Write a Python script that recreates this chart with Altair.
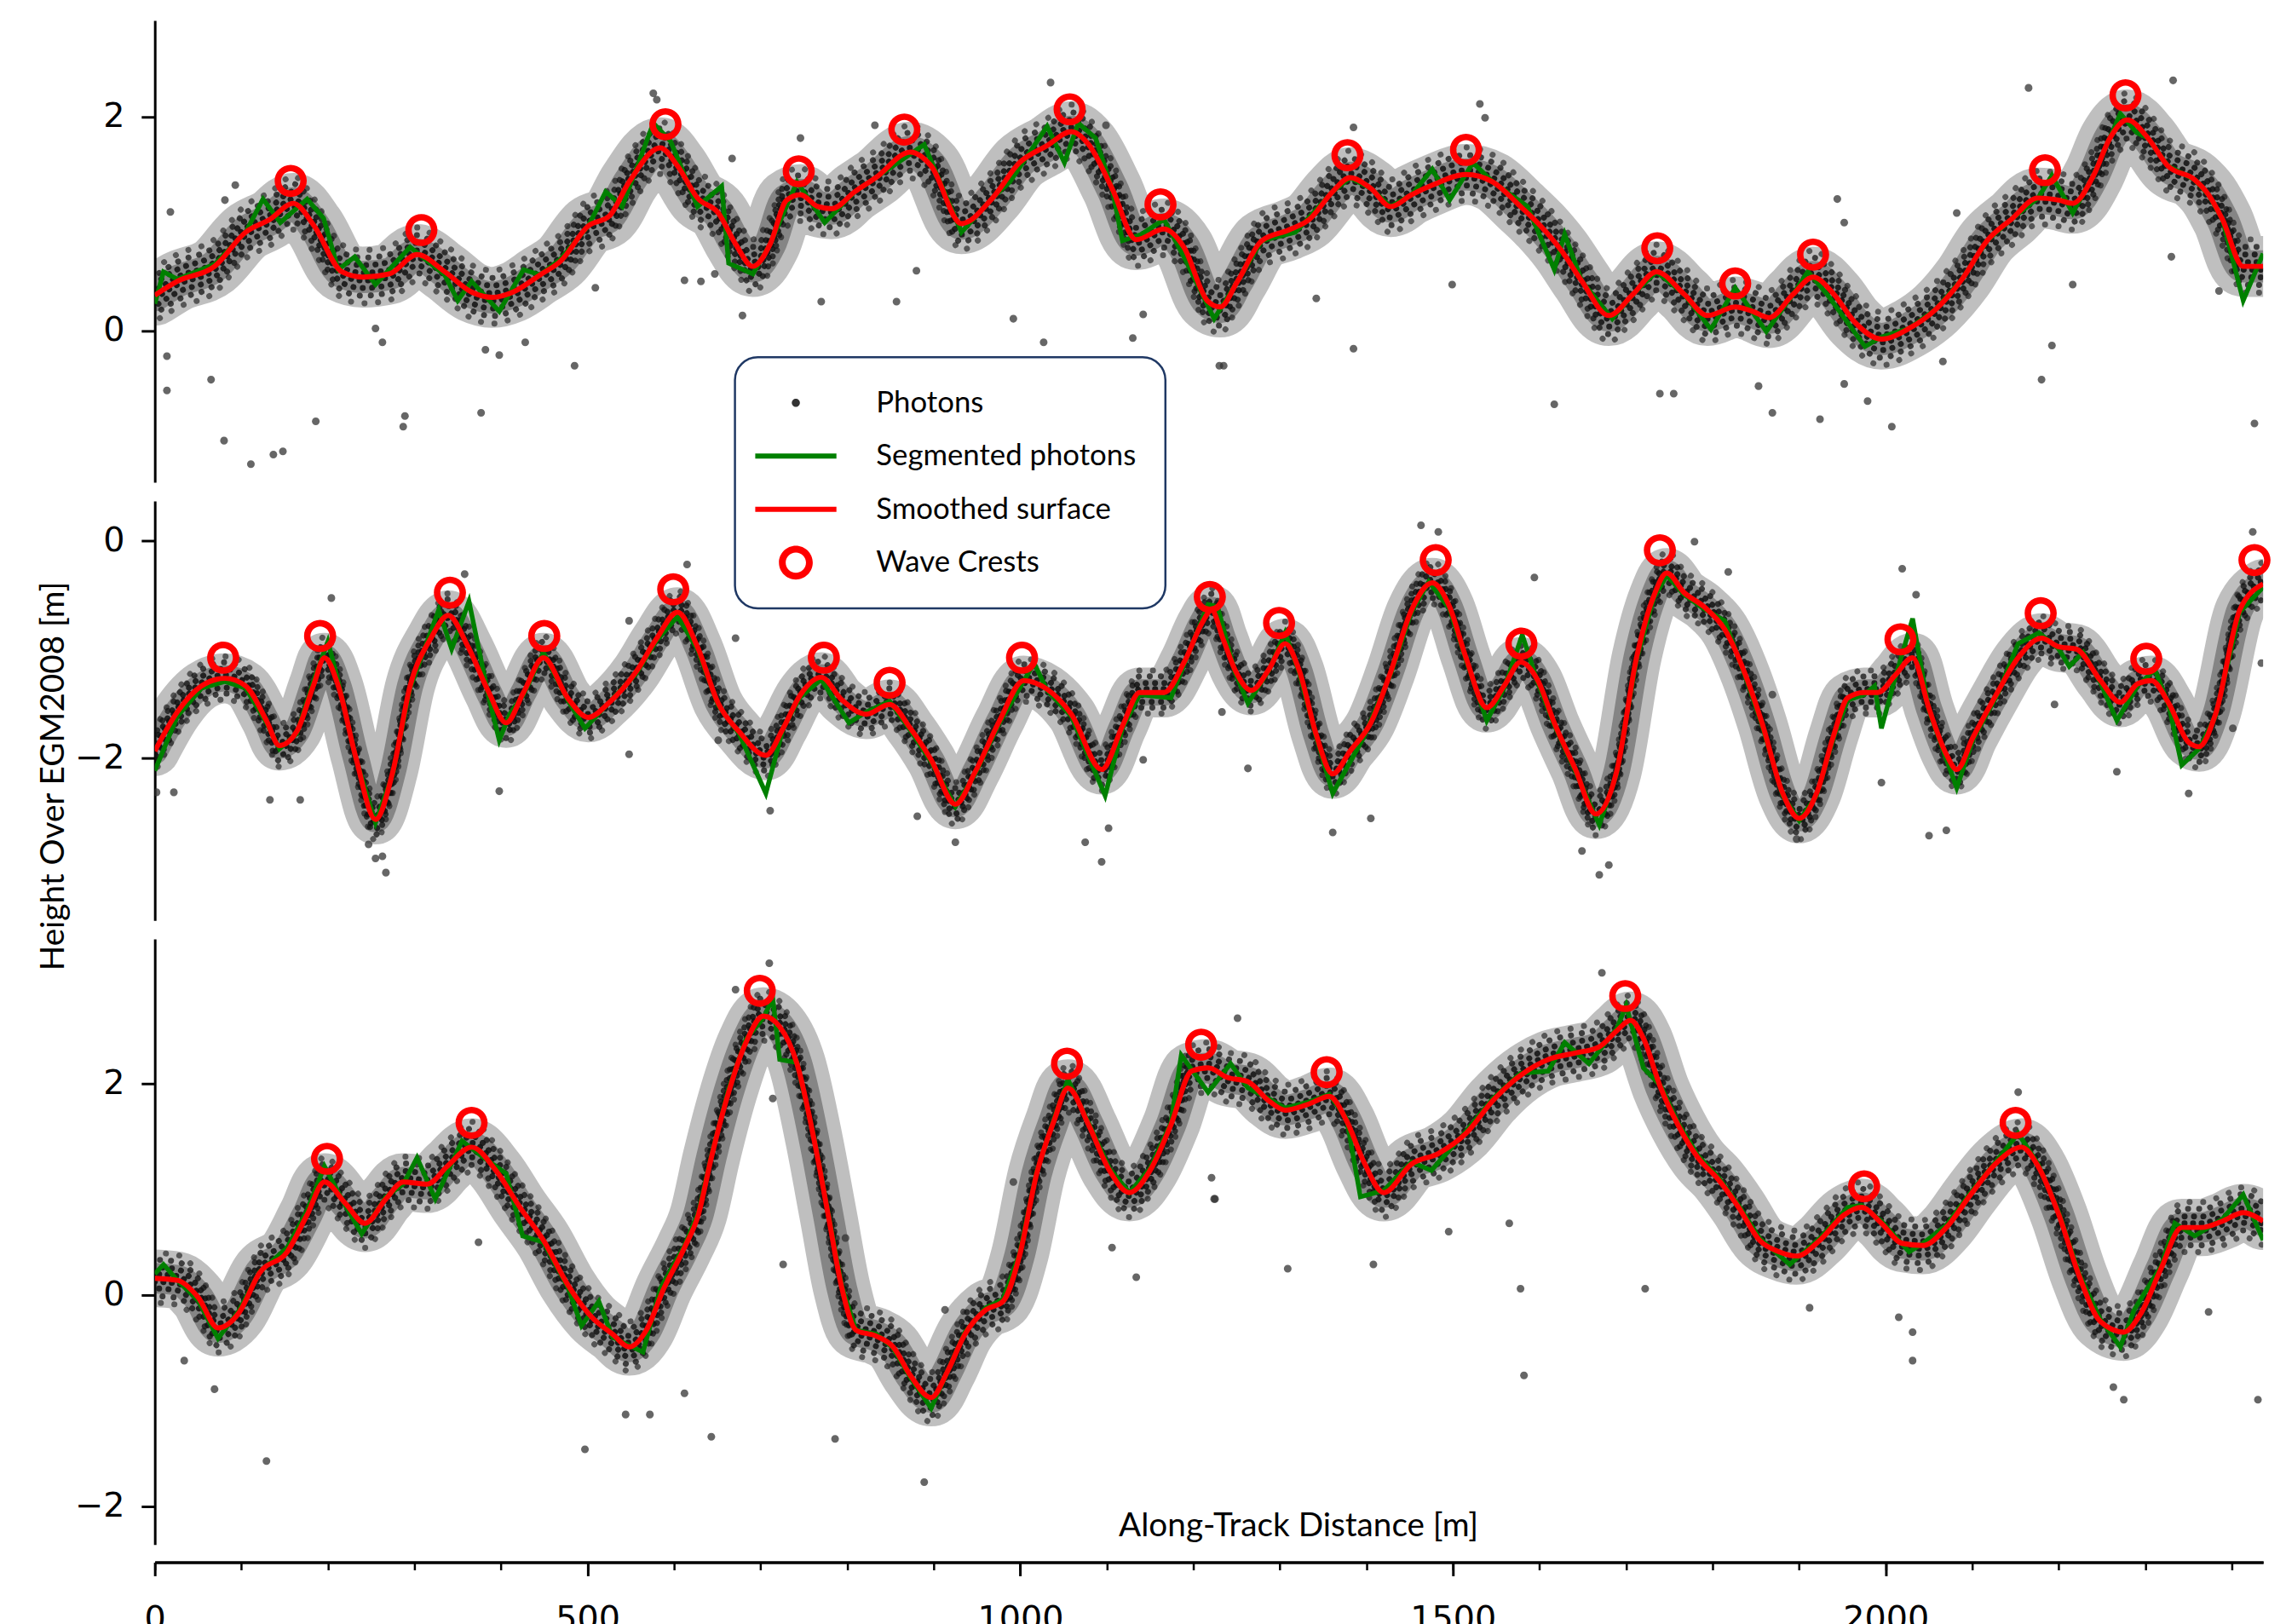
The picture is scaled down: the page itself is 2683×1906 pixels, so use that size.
import altair as alt
import pandas as pd

X_MAX = 2436
X_MAJOR = [0, 500, 1000, 1500, 2000]
X_MINOR = [0, 100, 200, 300, 400, 500, 600, 700, 800, 900, 1000, 1100, 1200,
           1300, 1400, 1500, 1600, 1700, 1800, 1900, 2000, 2100, 2200, 2300, 2400]

SERIES = ["Photons", "Segmented photons", "Smoothed surface", "Wave Crests"]
COLORS = ["#333333", "#008000", "#ff0000", "#ff0000"]
DOT = "M -0.24 0 A 0.24 0.24 0 1 0 0.24 0 A 0.24 0.24 0 1 0 -0.24 0 Z"
BAR = "M -2.4 -0.15 L 2.4 -0.15 L 2.4 0.15 L -2.4 0.15 Z"
RING = ("M -1 0 A 1 1 0 1 0 1 0 A 1 1 0 1 0 -1 0 Z "
        "M -0.6 0 A 0.6 0.6 0 1 1 0.6 0 A 0.6 0.6 0 1 1 -0.6 0 Z")
SHAPES = [DOT, BAR, BAR, RING]

# ---------------- top panel ----------------
top_red_x = [0, 26, 69, 105, 133, 160, 184, 216, 240, 271,
             303, 335, 366, 390, 414, 445, 469, 501, 525, 548,
             584, 604, 627, 651, 671, 691, 711, 730, 746, 766,
             782, 809, 833, 873, 897, 932, 968, 999, 1031, 1059,
             1079, 1106, 1134, 1166, 1189, 1216, 1231, 1251, 1279, 1310,
             1334, 1361, 1381, 1405, 1428, 1452, 1476, 1515, 1546, 1578,
             1601, 1625, 1649, 1680, 1708, 1735, 1767, 1794, 1826, 1846,
             1865, 1893, 1916, 1940, 1964, 1995, 2027, 2058, 2089, 2117,
             2145, 2176, 2200, 2216, 2240, 2259, 2279, 2303, 2326, 2357,
             2373, 2389, 2413, 2436]
top_red_y = [0.33, 0.46, 0.60, 0.92, 1.04, 1.19, 0.98, 0.55, 0.50, 0.53,
             0.71, 0.55, 0.36, 0.31, 0.36, 0.52, 0.65, 0.98, 1.07, 1.39,
             1.71, 1.54, 1.24, 1.10, 0.81, 0.60, 0.81, 1.22, 1.27, 1.16,
             1.14, 1.30, 1.43, 1.67, 1.54, 1.00, 1.24, 1.57, 1.73, 1.86,
             1.74, 1.33, 0.85, 0.95, 0.78, 0.28, 0.22, 0.46, 0.84, 0.94,
             1.04, 1.30, 1.43, 1.33, 1.16, 1.27, 1.36, 1.46, 1.39, 1.16,
             0.98, 0.75, 0.46, 0.14, 0.34, 0.55, 0.34, 0.14, 0.22, 0.18,
             0.12, 0.34, 0.50, 0.34, 0.08, -0.08, 0.02, 0.20, 0.49, 0.84,
             1.04, 1.24, 1.22, 1.19, 1.45, 1.80, 1.97, 1.80, 1.54, 1.41,
             1.27, 1.04, 0.60, 0.60]
top_seg_x = [0, 10, 26, 69, 105, 125, 145, 176, 195, 212,
             231, 255, 295, 335, 350, 366, 398, 426, 445, 469,
             501, 521, 540, 576, 596, 627, 655, 663, 691, 711,
             742, 774, 809, 833, 889, 932, 968, 988, 1031, 1051,
             1067, 1087, 1106, 1118, 1140, 1166, 1189, 1224, 1251, 1279,
             1318, 1361, 1381, 1405, 1428, 1452, 1476, 1496, 1523, 1546,
             1586, 1617, 1629, 1649, 1684, 1708, 1735, 1767, 1798, 1826,
             1862, 1893, 1910, 1932, 1976, 1995, 2027, 2058, 2089, 2117,
             2145, 2176, 2192, 2216, 2240, 2271, 2290, 2303, 2326, 2357,
             2373, 2389, 2413, 2436]
top_seg_y = [0.25, 0.55, 0.48, 0.62, 0.92, 1.23, 1.01, 1.23, 1.05, 0.57,
             0.69, 0.43, 0.78, 0.52, 0.28, 0.46, 0.18, 0.57, 0.52, 0.67,
             0.98, 1.30, 1.16, 1.94, 1.77, 1.16, 1.35, 0.63, 0.53, 0.81,
             1.39, 1.01, 1.30, 1.43, 1.74, 0.92, 1.24, 1.39, 1.91, 1.57,
             1.94, 1.80, 1.33, 0.84, 0.90, 1.04, 0.69, 0.11, 0.46, 0.84,
             0.92, 1.30, 1.43, 1.33, 1.16, 1.27, 1.51, 1.22, 1.57, 1.39,
             1.16, 0.57, 0.90, 0.46, 0.11, 0.34, 0.55, 0.34, 0.01, 0.40,
             -0.01, 0.34, 0.55, 0.34, -0.15, -0.06, 0.02, 0.20, 0.49, 0.84,
             1.04, 1.24, 1.45, 1.10, 1.45, 2.03, 1.85, 1.80, 1.54, 1.41,
             1.27, 1.04, 0.28, 0.72]
top_crest_x = [157, 308, 590, 744, 866, 1057, 1162, 1378, 1515, 1736, 1826, 1916, 2184, 2277]
top_crest_y = [1.40, 0.94, 1.93, 1.49, 1.88, 2.07, 1.18, 1.64, 1.69, 0.77, 0.44, 0.71, 1.50, 2.20]
top_ph_x = [14, 14, 65, 80, 111, 137, 148, 186, 287, 289,
            377, 485, 255, 263, 382, 398, 428, 509, 612, 631,
            647, 679, 770, 857, 880, 992, 1027, 1130, 1142, 1230,
            576, 580, 667, 746, 832, 1035, 1099, 93, 81, 18,
            1385, 1235, 1499, 1342, 1531, 1537, 1385, 1617, 1739, 1755,
            1853, 1869, 1924, 1952, 1979, 2007, 2066, 1944, 1952, 2082,
            2165, 2332, 2180, 2192, 2216, 2426, 2385, 2330]
top_ph_y = [-0.24, -0.56, -0.46, -1.03, -1.25, -1.16, -1.13, -0.85, -0.90, -0.80,
            -0.77, -0.33, 0.02, -0.11, -0.18, -0.23, -0.11, 0.40, 0.47, 0.46,
            0.53, 0.14, 0.27, 0.27, 0.56, 0.11, -0.11, -0.07, 0.15, -0.33,
            2.22, 2.16, 1.61, 1.80, 1.92, 2.32, 1.92, 1.36, 1.22, 1.11,
            -0.17, -0.33, 0.43, 0.30, 2.12, 1.99, 1.90, -0.69, -0.59, -0.59,
            -0.52, -0.77, -0.83, -0.50, -0.66, -0.90, -0.29, 1.23, 1.01, 1.10,
            2.27, 2.34, -0.46, -0.14, 0.43, -0.87, 0.37, 0.69]

# ---------------- middle panel ----------------
mid_red_x = [0, 26, 54, 81, 105, 129, 144, 164, 184, 196,
             212, 232, 255, 275, 295, 319, 339, 362, 386, 406,
             426, 449, 477, 501, 524, 556, 580, 604, 627, 651,
             675, 706, 726, 746, 770, 794, 822, 849, 873, 897,
             925, 948, 976, 1004, 1031, 1059, 1094, 1118, 1138, 1166,
             1190, 1210, 1221, 1234, 1248, 1267, 1287, 1306, 1322, 1342,
             1361, 1381, 1405, 1428, 1452, 1476, 1496, 1515, 1539, 1559,
             1578, 1598, 1617, 1641, 1665, 1689, 1712, 1732, 1747, 1767,
             1790, 1814, 1838, 1857, 1881, 1900, 1920, 1940, 1956, 1975,
             1991, 2011, 2031, 2050, 2070, 2082, 2101, 2129, 2153, 2180,
             2200, 2220, 2248, 2271, 2291, 2307, 2327, 2350, 2362, 2381,
             2409, 2436]
mid_red_y = [-1.94, -1.58, -1.34, -1.27, -1.34, -1.66, -1.89, -1.76, -1.32, -1.08,
             -1.34, -1.99, -2.57, -2.13, -1.34, -0.90, -0.69, -0.98, -1.40, -1.68,
             -1.40, -1.08, -1.45, -1.63, -1.50, -1.21, -0.90, -0.66, -0.98, -1.50,
             -1.76, -1.98, -1.73, -1.42, -1.26, -1.47, -1.60, -1.51, -1.73, -2.02,
             -2.43, -2.13, -1.66, -1.29, -1.37, -1.60, -2.11, -1.71, -1.40, -1.40,
             -1.11, -0.76, -0.64, -0.90, -1.19, -1.38, -1.19, -0.95, -1.19, -1.79,
             -2.15, -1.94, -1.68, -1.21, -0.64, -0.39, -0.61, -1.08, -1.54, -1.34,
             -1.12, -1.29, -1.68, -2.10, -2.52, -2.13, -1.08, -0.51, -0.30, -0.48,
             -0.61, -0.82, -1.24, -1.68, -2.33, -2.56, -2.33, -1.79, -1.45, -1.40,
             -1.40, -1.24, -1.08, -1.55, -1.97, -2.11, -1.81, -1.40, -1.08, -0.90,
             -0.98, -1.00, -1.29, -1.49, -1.32, -1.29, -1.50, -1.86, -1.90, -1.60,
             -0.64, -0.40]
mid_seg_x = [0, 26, 54, 81, 105, 129, 144, 164, 184, 200,
             212, 232, 255, 275, 295, 328, 343, 363, 386, 398,
             410, 426, 449, 477, 497, 524, 556, 580, 604, 627,
             651, 675, 706, 726, 746, 770, 802, 822, 849, 873,
             897, 925, 948, 976, 1016, 1031, 1059, 1098, 1118, 1138,
             1174, 1190, 1217, 1228, 1248, 1263, 1287, 1306, 1322, 1342,
             1361, 1397, 1428, 1452, 1472, 1496, 1515, 1539, 1559, 1580,
             1598, 1617, 1641, 1669, 1689, 1712, 1732, 1747, 1767, 1790,
             1814, 1838, 1857, 1881, 1900, 1920, 1940, 1956, 1975, 1987,
             1995, 2011, 2031, 2050, 2082, 2101, 2129, 2153, 2177, 2200,
             2212, 2228, 2248, 2267, 2291, 2311, 2327, 2342, 2362, 2381,
             2409, 2436]
mid_seg_y = [-2.12, -1.62, -1.36, -1.30, -1.36, -1.68, -1.92, -1.78, -1.28, -0.93,
             -1.30, -2.00, -2.60, -2.15, -1.36, -0.64, -1.00, -0.56, -1.45, -1.84,
             -1.60, -1.42, -1.03, -1.47, -1.73, -1.50, -1.23, -0.92, -0.70, -1.00,
             -1.52, -1.78, -2.33, -1.73, -1.44, -1.28, -1.68, -1.58, -1.48, -1.75,
             -2.04, -2.45, -2.15, -1.68, -1.13, -1.38, -1.62, -2.35, -1.73, -1.42,
             -1.45, -1.13, -0.59, -0.61, -1.21, -1.50, -1.20, -0.85, -1.21, -1.81,
             -2.33, -1.81, -1.23, -0.66, -0.38, -0.63, -1.10, -1.66, -1.36, -0.87,
             -1.31, -1.70, -2.12, -2.62, -2.15, -1.10, -0.53, -0.32, -0.50, -0.63,
             -0.74, -1.26, -1.70, -2.35, -2.58, -2.35, -1.81, -1.47, -1.42, -1.34,
             -1.73, -1.26, -0.72, -1.57, -2.28, -1.83, -1.42, -0.95, -0.85, -1.00,
             -1.16, -1.03, -1.31, -1.66, -1.34, -1.19, -1.52, -2.07, -1.92, -1.62,
             -0.66, -0.43]
mid_crest_x = [79, 191, 341, 450, 599, 773, 849, 1002, 1219, 1299, 1480, 1579, 1739, 2017, 2179, 2301, 2426]
mid_crest_y = [-1.08, -0.88, -0.48, -0.88, -0.45, -1.08, -1.31, -1.08, -0.52, -0.76,
               -0.18, -0.95, -0.09, -0.91, -0.67, -1.09, -0.18]
mid_ph_x = [267, 255, 263, 247, 133, 168, 22, 2, 398, 711,
            881, 925, 1094, 1075, 1102, 548, 671, 615, 204, 358,
            548, 1142, 1233, 651, 1361, 1405, 1263, 1463, 1483, 1594,
            1680, 1669, 1649, 1779, 1818, 1869, 1897, 2019, 2035, 2050,
            2070, 1995, 2195, 2267, 2350, 2401, 2424, 2434]
mid_ph_y = [-3.06, -2.93, -2.91, -2.80, -2.39, -2.39, -2.32, -2.32, -2.31, -2.49,
            -2.54, -2.78, -2.96, -2.78, -2.65, -1.97, -0.90, -0.22, -0.53, -0.31,
            -0.74, -2.02, -1.58, -1.84, -2.69, -2.56, -2.10, 0.14, 0.08, -0.34,
            -2.99, -3.08, -2.86, -0.01, -0.29, -1.42, -2.75, -0.26, -0.50, -2.72,
            -2.67, -2.23, -1.51, -2.13, -2.33, -1.73, 0.08, -1.13]

# ---------------- bottom panel ----------------
bot_red_x = [0, 26, 50, 73, 97, 121, 153, 176, 196, 220,
             243, 267, 287, 315, 338, 366, 394, 422, 449, 477,
             505, 529, 548, 568, 588, 612, 628, 643, 663, 683,
             703, 722, 742, 762, 778, 794, 810, 834, 853, 873,
             897, 916, 936, 960, 980, 999, 1019, 1039, 1055, 1079,
             1103, 1126, 1150, 1174, 1198, 1217, 1239, 1263, 1287, 1306,
             1334, 1357, 1377, 1397, 1420, 1452, 1483, 1515, 1546, 1578,
             1610, 1641, 1669, 1689, 1705, 1720, 1740, 1760, 1783, 1807,
             1830, 1854, 1877, 1897, 1924, 1952, 1972, 1995, 2019, 2043,
             2070, 2098, 2129, 2157, 2176, 2200, 2224, 2248, 2275, 2295,
             2318, 2342, 2365, 2389, 2413, 2436]
bot_red_y = [0.16, 0.14, -0.02, -0.31, -0.17, 0.21, 0.41, 0.76, 1.07, 0.87,
             0.68, 0.91, 1.07, 1.05, 1.22, 1.40, 1.18, 0.83, 0.52, 0.10,
             -0.21, -0.37, -0.49, -0.33, 0.06, 0.45, 0.76, 1.30, 1.92, 2.39,
             2.64, 2.54, 2.19, 1.46, 0.76, 0.06, -0.33, -0.39, -0.49, -0.76,
             -0.97, -0.72, -0.37, -0.14, -0.06, 0.37, 1.15, 1.65, 1.96, 1.61,
             1.18, 0.97, 1.18, 1.61, 2.12, 2.15, 2.06, 2.02, 1.84, 1.75,
             1.81, 1.88, 1.65, 1.26, 0.97, 1.24, 1.34, 1.53, 1.84, 2.08,
             2.23, 2.29, 2.35, 2.50, 2.60, 2.43, 1.96, 1.61, 1.30, 1.09,
             0.83, 0.52, 0.41, 0.37, 0.52, 0.76, 0.83, 0.68, 0.49, 0.47,
             0.64, 0.95, 1.26, 1.40, 1.22, 0.76, 0.17, -0.25, -0.35, -0.17,
             0.25, 0.64, 0.64, 0.70, 0.78, 0.70]
bot_seg_x = [0, 10, 26, 50, 73, 97, 121, 153, 176, 196,
             220, 239, 267, 287, 303, 324, 355, 380, 406, 425,
             449, 477, 493, 513, 529, 564, 584, 612, 628, 643,
             663, 683, 703, 714, 722, 742, 762, 778, 794, 810,
             834, 853, 873, 897, 916, 936, 960, 980, 999, 1019,
             1039, 1055, 1079, 1103, 1126, 1150, 1174, 1186, 1217, 1243,
             1263, 1287, 1306, 1334, 1357, 1377, 1393, 1420, 1452, 1475,
             1515, 1546, 1578, 1610, 1629, 1657, 1689, 1700, 1720, 1740,
             1760, 1783, 1807, 1830, 1854, 1889, 1924, 1956, 1972, 1995,
             2027, 2043, 2070, 2098, 2129, 2153, 2176, 2200, 2224, 2248,
             2271, 2287, 2318, 2334, 2357, 2389, 2413, 2436]
bot_seg_y = [0.20, 0.29, 0.14, -0.05, -0.41, -0.15, 0.22, 0.45, 0.80, 1.22,
             0.85, 0.58, 0.93, 1.05, 1.30, 0.91, 1.46, 1.30, 1.15, 0.56,
             0.50, 0.08, -0.29, -0.06, -0.40, -0.54, 0.06, 0.47, 0.78, 1.32,
             1.95, 2.42, 2.62, 2.81, 2.23, 2.20, 1.48, 0.78, 0.08, -0.33,
             -0.37, -0.50, -0.78, -1.07, -0.72, -0.35, -0.12, -0.04, 0.39, 1.17,
             1.67, 2.04, 1.63, 1.20, 0.97, 1.20, 1.63, 2.27, 1.92, 2.19,
             1.96, 1.86, 1.77, 1.83, 1.90, 1.67, 0.93, 0.99, 1.26, 1.18,
             1.55, 1.86, 2.10, 2.12, 2.39, 2.19, 2.52, 2.74, 2.15, 1.98,
             1.63, 1.32, 1.11, 0.85, 0.54, 0.29, 0.54, 0.83, 0.85, 0.70,
             0.41, 0.49, 0.66, 0.97, 1.28, 1.53, 1.24, 0.78, 0.19, -0.23,
             -0.49, -0.14, 0.27, 0.68, 0.56, 0.72, 0.95, 0.52]
bot_crest_x = [199, 366, 699, 1054, 1209, 1354, 1699, 1975, 2150]
bot_crest_y = [1.29, 1.63, 2.88, 2.19, 2.37, 2.11, 2.83, 1.03, 1.63]
bot_ph_x = [129, 69, 34, 497, 544, 572, 612, 643, 786, 889,
            726, 1134, 1106, 714, 710, 671, 798, 374, 992, 1225,
            1221, 913, 1309, 1582, 1578, 1722, 2031, 2031, 2015, 1912,
            2153, 1672, 1251, 2275, 2263, 2373, 2430, 1224, 1408, 1495, 1565]
bot_ph_y = [-1.57, -0.89, -0.62, -1.46, -1.13, -1.13, -0.93, -1.34, -1.36, -1.77,
            0.29, 0.17, 0.45, 1.86, 3.14, 2.89, 0.54, 0.50, 1.07, 0.91,
            1.11, -0.14, 0.25, -0.76, 0.06, 0.06, -0.62, -0.35, -0.21, -0.12,
            1.92, 3.05, 2.62, -0.99, -0.87, -0.16, -0.99, 0.91, 0.29, 0.60, 0.68]

PANEL_W = 2493
# dotted rows that give the dense photon cloud its speckled look
# (pixel offset from the surface, dash gap, dash offset, opacity)
SPECKLE = [(-32, 16, 3, 0.6), (-23, 13, 7, 0.75), (-14, 11, 2, 0.85), (-5, 10, 5, 0.9),
           (4, 10, 0, 0.9), (13, 11, 6, 0.85), (22, 13, 4, 0.75), (31, 16, 9, 0.6)]

LEGEND = alt.Legend(
    title=None, orient="none", legendX=686, legendY=398,
    padding=34, cornerRadius=27, strokeColor="#1f3864", fillColor="white",
    labelFont="Lato", labelFontSize=35, labelColor="black", labelOffset=75,
    labelLimit=800, symbolOffset=18, symbolSize=1600, rowPadding=25,
    symbolStrokeWidth=0, symbolOpacity=1,
)
COLOR_ENC = alt.Color("series:N", scale=alt.Scale(domain=SERIES, range=COLORS), legend=LEGEND)
SHAPE_ENC = alt.Shape("series:N", scale=alt.Scale(domain=SERIES, range=SHAPES), legend=LEGEND)


def panel(red_x, red_y, seg_x, seg_y, cr_x, cr_y, ph_x, ph_y,
          y_domain, y_ticks, height, spread, y_title=None, bottom=False):
    red = pd.DataFrame({"x": red_x, "y": red_y})
    seg = pd.DataFrame({"x": seg_x, "y": seg_y})
    crest = pd.DataFrame({"x": cr_x, "y": cr_y, "series": ["Wave Crests"] * len(cr_x)})
    phot = pd.DataFrame({"x": ph_x, "y": ph_y, "series": ["Photons"] * len(ph_x)})

    if y_title:
        yaxis = alt.Axis(values=y_ticks, title=y_title, titleX=-108, titleY=325,
                         titleFont="Lato", titleFontSize=39, titleFontWeight="normal",
                         titleColor="black", titleBaseline="alphabetic", titleAngle=270)
    else:
        yaxis = alt.Axis(values=y_ticks, title=None)
    y = alt.Y("y:Q", scale=alt.Scale(domain=y_domain, nice=False, zero=False), axis=yaxis)
    xs = alt.Scale(domain=[0, X_MAX], nice=False, zero=False)
    x_none = alt.X("x:Q", scale=xs, axis=None)
    if bottom:
        x_minor = alt.X("x:Q", scale=xs, axis=alt.Axis(
            orient="bottom", values=X_MINOR, tickSize=9, tickWidth=2.5, labels=False,
            title=None, offset=21))
        x_major = alt.X("x:Q", scale=xs, axis=alt.Axis(
            orient="bottom", values=X_MAJOR, format="d", tickSize=16, offset=21,
            labelFlush=False, labelPadding=32,
            title="Along-Track Distance [m]", titleX=1352, titleY=-31,
            titleBaseline="alphabetic", titleAlign="center", titleFont="Lato",
            titleFontSize=39, titleFontWeight="normal", titleColor="black"))
    else:
        x_minor = x_none
        x_major = x_none

    layers = []
    layers.append(alt.Chart(red).mark_line(
        color="#1a1a1a", strokeWidth=int(72 * spread), opacity=0.28, interpolate="monotone",
        strokeCap="round", strokeJoin="round", clip=True).encode(x=x_minor, y=y))
    layers.append(alt.Chart(red).mark_line(
        color="#1a1a1a", strokeWidth=int(38 * spread), opacity=0.35, interpolate="monotone",
        strokeCap="round", strokeJoin="round", clip=True).encode(x=x_none, y=y))
    for off, gap, doff, op in SPECKLE:
        layers.append(alt.Chart(red).mark_line(
            color="#111111", strokeWidth=7, opacity=op, interpolate="monotone",
            strokeCap="round", strokeDash=[0.1, gap], strokeDashOffset=doff,
            yOffset=round(off * spread), clip=True).encode(x=x_none, y=y))
    layers.append(alt.Chart(phot).mark_point(filled=True, size=1444, opacity=0.75, clip=True).encode(
        x=x_none, y=y, color=COLOR_ENC, shape=SHAPE_ENC))
    layers.append(alt.Chart(seg).mark_line(color="#008000", strokeWidth=5.5, clip=True).encode(x=x_none, y=y))
    layers.append(alt.Chart(red).mark_line(color="#ff0000", strokeWidth=6, interpolate="monotone",
                                           clip=True).encode(x=x_major, y=y))
    layers.append(alt.Chart(crest).mark_point(filled=True, size=1444, opacity=1).encode(
        x=x_none, y=y, color=COLOR_ENC, shape=SHAPE_ENC))
    lay = alt.layer(*layers).properties(width=PANEL_W, height=height)
    if bottom:
        lay = lay.resolve_axis(x="independent")
    return lay


top = panel(top_red_x, top_red_y, top_seg_x, top_seg_y, top_crest_x, top_crest_y,
            top_ph_x, top_ph_y, [-1.42, 2.9], [0, 2], 546, 1.0)
mid = panel(mid_red_x, mid_red_y, mid_seg_x, mid_seg_y, mid_crest_x, mid_crest_y,
            mid_ph_x, mid_ph_y, [-3.5, 0.365], [-2, 0], 496, 0.82,
            y_title="Height Over EGM2008 [m]")
bot = panel(bot_red_x, bot_red_y, bot_seg_x, bot_seg_y, bot_crest_x, bot_crest_y,
            bot_ph_x, bot_ph_y, [-2.36, 3.37], [-2, 0, 2], 716, 0.95, bottom=True)

chart = alt.vconcat(top, mid, bot, spacing=22, bounds="flush").properties(
    padding={"left": 36, "top": 9, "right": 10, "bottom": 10},
    background="white",
).configure_view(strokeWidth=0).configure_axis(
    domainColor="black", domainWidth=3, tickColor="black", tickWidth=3, tickSize=16,
    labelFont="DejaVu Sans", labelFontSize=40, labelColor="black", labelPadding=20,
    grid=False,
).configure_legend(strokeWidth=2.5)

chart.save("out.html", embed_options={"renderer": "svg", "actions": False})
